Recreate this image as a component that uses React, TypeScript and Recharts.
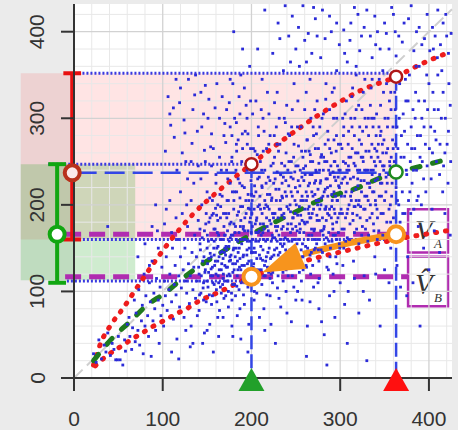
import React from 'react';
import {
  ComposedChart, Line, Scatter, XAxis, YAxis, CartesianGrid,
  ReferenceArea, ReferenceLine, ReferenceDot,
} from 'recharts';

// ---------- axis / grid values ----------
const xTicks = [0, 100, 200, 300, 400];
const yTicks = [0, 100, 200, 300, 400];
const gridMinor = [20, 40, 60, 80, 120, 140, 160, 180, 220, 240, 260, 280, 320, 340, 360, 380, 420];
const gridMajor = [100, 200, 300, 400];

// ---------- quantile curves ----------
const upperRed: [number, number][] = [
  [22, 15], [30, 40], [42, 62], [55, 80], [70, 103], [88, 130], [108, 158], [133, 188],
  [165, 218], [200, 247], [237, 276], [276, 304], [325, 333], [363, 348], [390, 362], [422, 376],
];
const lowerRed: [number, number][] = [
  [24, 14], [35, 24], [55, 38], [67, 46], [77, 52], [88, 59], [99, 65], [108, 70], [117, 75],
  [127, 80], [136, 86], [165, 100], [200, 117], [263, 136], [319, 150], [363, 160], [420, 170],
];
const medianGreen: [number, number][] = [
  [22, 20], [44, 47], [63, 65], [82, 84], [104, 99], [120, 113], [138, 127], [161, 142],
  [200, 166], [254, 194], [276, 205], [299, 213], [318, 219], [340, 229], [364, 238], [389, 244], [418, 252],
];
const arrowPath: [number, number][] = [[363, 166], [311, 156], [258, 143]];
const arrowTip: [number, number] = [212, 122];

// ---------- marked positions ----------
const markX = [200, 363];             // green / red triangles
const barX = [-19, -2];               // green bar, red bar
const barLow = [110, 160];
const barMid = [166, 237];
const barHigh = [247, 352];
const redCircles: [number, number][] = [[200, 247], [363, 348]];
const greenCircle: [number, number] = [363, 238];
const orangeCircles: [number, number][] = [[363, 166], [200, 117]];
const pinkBox = [-60, 363, 160, 352];
const greenBox = [-60, 69, 113, 247];
const magentaY = [166, 117];
const boxVA = [376.5, 421.5, 145, 195];
const boxVB = [376.5, 421.5, 83, 140];

// ---------- scatter cloud ----------
const cloud: [number, number][] = [
  [22,28],[25,18],[28,44],[31,22],[34,38],[36,30],[38,52],[41,26],[43,40],[45,33],[47,21],[49,21],[52,21],[55,15],[50,48],[57,44],[58,31],[60,62],
  [62,70],[63,48],[65,33],[66,58],[68,90],[69,42],[70,75],[72,55],[73,102],[74,38],[76,66],[77,84],[78,28],[79,120],[80,60],[81,95],[83,72],[84,48],[85,110],[86,88],[87,25],[88,135],[89,66],[90,98],[91,80],[92,55],[93,115],[94,170],[95,90],[96,40],[97,105],[98,72],[99,128],[100,84],[38,175],
  [101,60],[102,112],[103,95],[104,140],[105,78],[106,325],[107,102],[108,120],[109,292],[110,88],[111,150],[112,312],[112,68],[113,108],[114,130],[115,96],[116,45],[117,160],[118,118],[119,82],[120,335],[120,140],[121,104],[122,190],[123,125],[124,70],[125,283],[125,150],[126,112],[127,98],[128,175],[129,132],[130,86],[131,118],[132,205],[133,271],[133,145],[134,102],[135,128],[136,327],[136,165],[137,92],[138,140],[139,112],[140,182],[110,30],[118,22],[126,55],[134,40],[139,72],[104,195],[116,240],[128,230],[122,260],[131,36],
  [141,120],[142,155],[143,98],[144,290],[144,200],[145,135],[146,110],[147,263],[147,170],[148,338],[148,125],[149,88],[150,150],[150,215],[151,105],[152,180],[152,138],[153,62],[154,267],[154,118],[155,160],[155,245],[156,95],[156,128],[157,190],[158,142],[158,108],[159,312],[159,172],[160,120],[160,225],[161,88],[161,150],[162,135],[162,200],[163,165],[163,110],[164,255],[164,78],[165,145],[165,185],[166,125],[166,98],[167,210],[167,160],[168,138],[168,115],[169,175],[169,280],[170,294],[170,130],[170,150],[145,40],[150,55],[157,30],[163,48],[168,70],[143,230],[151,300],[156,205],[160,235],[166,240],[149,190],[153,208],[158,158],[162,182],[142,172],[146,90],[165,105],[169,92],
  [171,112],[171,190],[172,148],[172,240],[173,128],[173,170],[174,100],[174,205],[175,158],[175,135],[176,225],[176,118],[177,180],[177,142],[178,90],[178,255],[179,165],[179,122],[180,195],[180,150],[181,108],[181,215],[182,175],[182,132],[183,270],[183,160],[184,118],[184,188],[185,145],[185,230],[186,102],[186,168],[187,208],[187,138],[188,125],[188,182],[189,250],[189,155],[190,112],[190,198],[191,142],[191,175],[192,220],[192,130],[193,160],[193,285],[194,118],[194,190],[195,148],[195,240],[196,170],[196,105],[197,205],[197,135],[198,180],[198,158],[199,265],[199,122],[200,212],[200,145],
  [172,310],[176,345],[181,300],[186,325],[190,380],[194,315],[198,360],[178,60],[184,72],[188,45],[192,85],[196,30],[174,82],[182,95],[191,96],[176,290],[185,275],[195,300],[180,400],[188,350],
  [201,175],[202,128],[202,240],[203,150],[203,195],[204,110],[204,262],[205,168],[205,215],[206,138],[206,185],[207,120],[207,230],[208,158],[208,280],[209,200],[209,142],[210,178],[210,250],[211,125],[211,165],[212,220],[212,190],[213,148],[213,300],[214,172],[214,118],[215,240],[215,205],[216,135],[216,158],[217,265],[217,185],[218,212],[218,128],[219,170],[219,232],[220,150],[220,195],[221,115],[221,280],[222,178],[222,245],[223,140],[223,208],[224,162],[224,122],[225,225],[225,190],[226,255],[226,148],[227,175],[227,132],[228,205],[228,290],[229,158],[229,238],[230,185],[230,118],[231,218],[231,165],[232,145],[232,270],[233,195],[233,128],[234,248],[234,172],[235,208],[235,152],[236,232],[236,138],[237,185],[237,300],[238,162],[238,215],[239,125],[239,260],[240,198],[240,145],[241,178],[241,240],[242,158],[242,222],[243,132],[243,280],[244,192],[244,168],[245,250],[245,142],[246,210],[246,118],[247,185],[247,230],[248,160],[248,270],[249,205],[249,150],[250,245],[250,175],
  [205,320],[212,345],[218,330],[224,375],[230,410],[236,355],[242,395],[248,340],[203,90],[209,70],[215,55],[221,95],[227,40],[233,82],[239,100],[245,65],[250,90],[207,380],[229,330],[246,310],[215,425],[238,430],[211,310],[226,318],[244,365],
  [251,135],[252,215],[252,188],[253,160],[253,268],[254,198],[254,122],[255,240],[255,172],[256,148],[256,290],[257,210],[257,182],[258,255],[258,140],[259,228],[259,168],[260,195],[260,310],[261,152],[261,245],[262,205],[262,128],[263,275],[263,180],[264,222],[264,160],[265,198],[265,262],[266,142],[266,235],[267,185],[267,300],[268,215],[268,165],[269,250],[269,130],[270,195],[270,280],[271,172],[271,225],[272,150],[272,265],[273,205],[273,238],[274,182],[274,320],[275,160],[275,218],[276,248],[276,135],[277,195],[277,290],[278,228],[278,170],[279,258],[279,208],[280,145],[280,185],[281,240],[281,305],[282,175],[282,215],[283,270],[283,155],[284,230],[284,198],[285,250],[285,128],[286,285],[286,210],[287,168],[287,240],[288,195],[288,310],[289,222],[289,150],[290,260],[290,185],[291,205],[291,330],[292,238],[292,165],[293,275],[293,215],[294,190],[294,250],[295,140],[295,228],[296,300],[296,180],[297,245],[297,205],[298,168],[298,270],[299,220],[299,155],[300,240],
  [254,360],[260,390],[266,345],[272,415],[278,370],[284,340],[290,400],[296,355],[257,90],[263,60],[270,105],[276,80],[282,50],[288,95],[294,70],[300,110],[262,25],[285,15],[258,430],[280,425],[268,375],[275,110],[292,120],
  [301,195],[302,265],[302,172],[303,230],[304,150],[304,290],[305,210],[306,248],[306,185],[307,320],[308,225],[308,162],[309,270],[310,200],[310,240],[311,178],[312,300],[312,255],[313,215],[314,190],[314,335],[315,232],[316,168],[316,280],[317,245],[318,205],[318,310],[319,188],[320,260],[320,222],[321,155],[322,290],[322,240],[323,198],[324,270],[324,215],[325,175],[326,250],[326,330],[327,228],[328,195],[328,300],[329,262],[330,210],[330,182],[331,240],[332,280],[332,165],[333,225],[334,315],[334,200],[335,255],[336,190],[336,235],[337,290],[338,215],[338,170],[339,265],[340,245],[340,200],[341,305],[342,185],[342,230],[343,270],[344,210],[344,345],[345,250],[346,190],[346,285],[347,225],[348,165],[348,260],[349,240],[350,205],
  [305,375],[312,410],[318,360],[324,395],[330,425],[336,370],[342,400],[348,355],[303,130],[309,100],[315,135],[321,75],[327,118],[333,90],[339,140],[345,60],[350,125],[308,40],[330,20],[318,350],[340,385],
  [352,260],[353,225],[354,300],[355,195],[356,245],[357,330],[358,210],[359,275],[360,185],[361,250],[362,310],[363,220],[364,290],[365,265],[366,200],[367,340],[368,240],[369,280],[370,215],[371,305],[372,255],[373,190],[374,320],[375,235],[376,270],[377,205],[378,350],[379,250],[380,290],[381,225],[382,310],[383,195],[384,265],[385,330],[386,240],[387,280],[388,210],[389,360],[390,255],[392,300],[394,230],[395,320],[396,270],[398,245],[400,340],[402,290],[404,260],[405,380],[406,310],[408,275],[410,350],[412,235],[414,300],[416,330],[418,260],[420,395],[422,285],[424,315],
  [355,380],[360,420],[366,395],[372,410],[380,430],[386,400],[392,385],[398,420],[404,405],[410,425],[416,410],[422,375],[357,150],[364,130],[370,165],[376,140],[382,110],[388,175],[394,150],[400,125],[406,170],[412,145],[418,190],[424,165],[375,95],[390,60],[368,105],
];

// dense core of the cloud and the sparse upper band
const cloudCore: [number, number][] = [
  [140.5,128],[141.5,96],[142.5,148],[143.5,118],[144.5,162],[145.5,104],[146.5,140],[147.5,122],[148.5,178],[149.5,112],[150.5,132],[151.5,158],[152.5,96],[153.5,144],[154.5,126],[155.5,188],[156.5,110],[157.5,150],[158.5,130],[159.5,196],[160.5,102],[161.5,168],[162.5,118],[163.5,140],[164.5,212],[165.5,160],[166.5,132],[167.5,108],[168.5,190],[169.5,145],
  [170.5,165],[171.5,128],[172.5,205],[173.5,112],[174.5,152],[175.5,178],[176.5,136],[177.5,98],[178.5,215],[179.5,148],[180.5,125],[181.5,168],[182.5,240],[183.5,106],[184.5,158],[185.5,192],[186.5,128],[187.5,175],[188.5,110],[189.5,222],[190.5,140],[191.5,160],[192.5,185],[193.5,120],[194.5,250],[195.5,132],[196.5,196],[197.5,150],[198.5,112],[199.5,228],
  [170.8,142],[172.2,185],[174.8,120],[176.2,162],[178.8,132],[180.2,205],[182.8,150],[184.2,135],[186.8,225],[188.2,160],[190.8,118],[192.2,170],[194.8,142],[196.2,212],[198.8,185],[173.3,230],[177.7,250],[183.3,262],[189.7,282],[195.3,270],
  [200.5,190],[201.5,160],[202.5,132],[203.5,222],[204.5,145],[205.5,182],[206.5,258],[207.5,168],[208.5,125],[209.5,210],[210.5,152],[211.5,240],[212.5,136],[213.5,178],[214.5,196],[215.5,118],[216.5,225],[217.5,160],[218.5,145],[219.5,270],[220.5,182],[221.5,138],[222.5,205],[223.5,165],[224.5,248],[225.5,130],[226.5,190],[227.5,218],[228.5,150],[229.5,175],[230.5,262],[231.5,135],[232.5,205],[233.5,160],[234.5,225],[235.5,122],[236.5,190],[237.5,245],[238.5,148],[239.5,210],[240.5,172],[241.5,282],[242.5,138],[243.5,200],[244.5,232],[245.5,158],[246.5,185],[247.5,255],[248.5,130],[249.5,220],
  [200.8,205],[202.2,265],[204.8,158],[206.2,120],[208.8,232],[210.2,195],[212.8,168],[214.2,285],[216.8,140],[218.2,198],[220.8,228],[222.2,120],[224.8,185],[226.2,162],[228.8,270],[230.2,142],[232.8,235],[234.2,188],[236.8,155],[238.2,295],[240.8,128],[242.2,250],[244.8,178],[246.2,140],[248.8,238],[201.3,305],[207.7,290],[213.3,262],[219.7,305],[225.7,280],[231.3,300],[239.7,315],[245.3,290],[203.3,100],[211.7,108],[217.3,96],[223.7,110],[229.3,104],[235.7,112],[241.3,118],[247.7,105],
  [250.5,200],[251.5,170],[252.5,245],[253.5,140],[254.5,222],[255.5,188],[256.5,262],[257.5,155],[258.5,205],[259.5,180],[260.5,235],[261.5,130],[262.5,275],[263.5,195],[264.5,165],[265.5,225],[266.5,250],[267.5,145],[268.5,190],[269.5,290],[270.5,170],[271.5,212],[272.5,240],[273.5,155],[274.5,200],[275.5,265],[276.5,182],[277.5,225],[278.5,148],[279.5,300],[280.5,210],[281.5,172],[282.5,250],[283.5,195],[284.5,162],[285.5,230],[286.5,275],[287.5,188],[288.5,140],[289.5,245],[290.5,212],[291.5,178],[292.5,300],[293.5,232],[294.5,165],[295.5,262],[296.5,205],[297.5,185],[298.5,240],[299.5,150],
  [251.8,290],[254.2,178],[256.8,232],[258.2,125],[260.8,262],[263.2,210],[265.8,185],[268.2,235],[270.8,148],[273.2,282],[275.8,205],[278.2,255],[280.8,165],[283.2,218],[285.8,190],[288.2,265],[290.8,158],[293.2,195],[295.8,280],[298.2,222],[252.3,320],[261.7,330],[271.3,310],[283.7,322],[293.3,335],[256.3,112],[266.7,120],[276.3,115],[286.7,125],[296.3,132],
  [300.5,270],[301.5,225],[302.5,190],[303.5,250],[304.5,172],[305.5,305],[306.5,215],[307.5,240],[308.5,195],[309.5,285],[310.5,160],[311.5,230],[312.5,205],[313.5,265],[314.5,182],[315.5,248],[316.5,300],[317.5,218],[318.5,172],[319.5,240],[320.5,200],[321.5,275],[322.5,185],[323.5,228],[324.5,310],[325.5,255],[326.5,195],[327.5,240],[328.5,172],[329.5,290],[330.5,225],[331.5,205],[332.5,262],[333.5,185],[334.5,240],[335.5,300],[336.5,215],[337.5,178],[338.5,250],[339.5,228],[340.5,280],[341.5,195],[342.5,255],[343.5,170],[344.5,235],[345.5,315],[346.5,210],[347.5,270],[348.5,190],[349.5,245],[350.5,300],[351.5,215],[352.5,180],[353.5,265],[354.5,235],[355.5,320],[356.5,200],[357.5,255],[358.5,225],[359.5,290],
  [302.8,300],[306.2,158],[309.8,255],[313.2,325],[316.8,198],[320.8,315],[324.2,165],[327.8,345],[331.2,158],[334.8,335],[338.2,300],[341.8,160],[345.2,280],[348.8,330],[352.2,340],[356.8,180],
  [360.5,240],[362.5,270],[364.5,205],[366.5,300],[368.5,255],[370.5,190],[372.5,285],[374.5,240],[376.5,320],[378.5,215],[380.5,265],[382.5,240],[384.5,300],[386.5,205],[388.5,320],[390.5,280],[392.5,250],[394.5,290],[396.5,215],[398.5,310],[400.5,265],[402.5,230],[404.5,330],[406.5,285],[408.5,250],[410.5,310],[412.5,270],[414.5,355],[416.5,245],[418.5,300],[420.5,270],[422.5,340],[424.5,250],[361.5,330],[367.5,180],[373.5,345],[379.5,190],[385.5,360],[391.5,200],[397.5,350],[403.5,195],[409.5,370],[415.5,215],[421.5,225],
  [232,392],[246,418],[253,405],[264,398],[270,428],[283,392],[288,418],[299,385],[304,402],[311,390],[316,428],[322,378],[327,405],[334,395],[339,418],[345,380],[352,398],[358,428],[363,372],[370,388],[377,415],[383,378],[389,405],[395,392],[401,378],[407,395],[413,385],[419,420],[425,398],[250,380],[262,365],[274,395],[296,410],[308,365],[320,420],[336,345],[350,410],[362,400],
];

// further points: upper-left band, core fill and low tail
const cloudExtra: [number, number][] = [
  [103,262],[108,305],[113,278],[119,318],[124,298],[129,345],[134,310],[139,285],[143,330],[146,305],[152,322],[155,282],[161,340],[164,300],[167,325],[171,272],[175,318],[179,340],[183,295],[187,305],[192,335],[196,282],[199,320],[115,345],[137,350],[157,265],[178,280],[190,265],[126,250],[148,250],
  [72,140],[80,155],[88,175],[95,150],[102,178],[108,205],[115,185],[120,215],[127,200],[135,225],[140,245],[92,200],[85,130],[110,168],[132,250],
  [150.3,165],[151.7,122],[153.3,185],[154.7,140],[156.3,118],[157.7,172],[159.3,135],[160.7,188],[162.3,152],[163.7,125],[165.3,198],[166.7,146],[168.3,120],[169.7,165],
  [171.3,152],[172.7,118],[174.3,190],[175.7,140],[177.3,165],[178.7,108],[180.3,178],[181.7,140],[183.3,215],[184.7,125],[186.3,150],[187.7,198],[189.3,130],[190.7,172],[192.3,110],[193.7,205],[195.3,158],[196.7,125],[198.3,195],[199.7,168],
  [201.3,145],[202.7,210],[204.3,178],[205.7,125],[207.3,198],[208.7,170],[210.3,138],[211.7,222],[213.3,160],[214.7,130],[216.3,200],[217.7,175],[219.3,122],[220.7,212],[222.3,158],[223.7,190],[225.3,142],[226.7,230],[228.3,170],[229.7,128],[231.3,195],[232.7,155],[234.3,210],[235.7,175],[237.3,135],[238.7,228],[240.3,160],[241.7,195],[243.3,148],[244.7,215],[246.3,172],[247.7,135],[249.3,190],
  [251.3,155],[252.7,228],[254.3,168],[255.7,205],[257.3,140],[258.7,242],[260.3,178],[261.7,215],[263.3,150],[264.7,190],[266.3,258],[267.7,172],[269.3,210],[270.7,160],[272.3,228],[273.7,188],[275.3,148],[276.7,240],[278.3,200],[279.7,170],[281.3,255],[282.7,195],[284.3,182],[285.7,220],[287.3,158],[288.7,235],[290.3,198],[291.7,172],[293.3,250],[294.7,210],[296.3,160],[297.7,232],[299.3,190],
  [301.3,210],[303.7,280],[305.3,232],[307.7,190],[309.3,245],[311.7,210],[313.3,290],[315.7,198],[317.3,260],[319.7,230],[321.3,205],[323.7,255],[325.3,285],[327.7,210],[329.3,240],[331.7,300],[333.3,220],[335.7,270],[337.3,240],[339.7,205],[341.3,262],[343.7,290],[345.3,225],[347.7,245],[349.3,275],[351.7,232],[353.3,290],[355.7,250],[357.3,310],[359.7,265],
  [132,60],[141,78],[147,52],[155,85],[162,70],[171,95],[179,48],[187,80],[197,62],[206,98],[214,80],[222,62],[231,92],[240,75],[252,100],[266,88],[279,65],[293,100],[305,85],[316,115],[326,100],[340,120],[355,110],
];

const toXY = (arr: [number, number][]) => arr.map(([x, y]) => ({ x, y }));

const TICK_FONT = { fontFamily: 'Liberation Sans, Arial, sans-serif', fontSize: 21, fill: '#333' };
const BLUE_DOT = '#3a3ae0';
const BLUE_DASH = '#3346e6';
const MAGENTA = '#b02cb0';

const XTick = (p: any) => (
  <text x={p.x} y={418} textAnchor="middle" dominantBaseline="central" {...TICK_FONT}>{p.payload.value}</text>
);
const YTick = (p: any) => (
  <text x={37} y={p.y} transform={`rotate(-90, 37, ${p.y})`} textAnchor="middle" dominantBaseline="central" {...TICK_FONT}>{p.payload.value}</text>
);

const triangle = (color: string) => (p: any) => (
  <polygon points={`${p.cx - 13},${p.cy + 13} ${p.cx + 13},${p.cy + 13} ${p.cx},${p.cy - 10}`} fill={color} />
);

const arrowHead = (p: any) => {
  const ang = (157 * Math.PI) / 180;
  const dx = Math.cos(ang), dy = Math.sin(ang);
  const L = 42, W = 14;
  const bx = p.cx - L * dx, by = p.cy - L * dy;
  const px = -dy, py = dx;
  return <polygon points={`${p.cx},${p.cy} ${bx + W * px},${by + W * py} ${bx - W * px},${by - W * py}`} fill="#f7941d" />;
};

const dotShape = (p: any) => <rect x={p.cx - 1.4} y={p.cy - 1.4} width={2.8} height={2.8} fill="#2b2bd8" />;

const boxLabel = (main: string, sub: string) => (props: any) => {
  const vb = props.viewBox || {};
  const x = vb.x, y = vb.y, h = vb.height;
  const serif = { fontFamily: 'Liberation Serif, Times New Roman, serif', fontStyle: 'italic', fill: '#333' } as const;
  return (
    <g>
      <text x={x + 7} y={y + h - 12} fontSize={29} {...serif}>
        {main}
        <tspan x={x + 26} y={y + h - 4} fontSize={13}>{sub}</tspan>
      </text>
    </g>
  );
};

export default function App() {
  return (
    <div style={{ position: 'absolute', left: 0, top: 0, width: 458, height: 430, background: '#ebebeb' }}>
      <ComposedChart width={458} height={430} margin={{ top: 4, right: 6, bottom: 0, left: 0 }}>
        <CartesianGrid fill="#ffffff" horizontal={false} vertical={false} />
        <XAxis
          dataKey="x" type="number" domain={[0, 426]} ticks={xTicks} height={52}
          axisLine={{ stroke: '#333', strokeWidth: 2 }} tickLine={{ stroke: '#333', strokeWidth: 2 }}
          tickSize={13} tick={XTick} interval={0}
        />
        <YAxis
          dataKey="y" type="number" domain={[0, 432]} ticks={yTicks} width={74}
          axisLine={{ stroke: '#333', strokeWidth: 2 }} tickLine={{ stroke: '#333', strokeWidth: 2 }}
          tickSize={13} tick={YTick} interval={0}
        />
        {gridMinor.map((v) => <ReferenceLine key={'gx' + v} x={v} stroke="#e8e8e8" strokeWidth={1} />)}
        {gridMinor.map((v) => <ReferenceLine key={'gy' + v} y={v} stroke="#e8e8e8" strokeWidth={1} />)}
        {gridMajor.map((v) => <ReferenceLine key={'mx' + v} x={v} stroke="#d2d2d2" strokeWidth={1.3} />)}
        {gridMajor.map((v) => <ReferenceLine key={'my' + v} y={v} stroke="#d2d2d2" strokeWidth={1.3} />)}
        <ReferenceLine segment={[{ x: 0, y: 0 }, { x: 426, y: 426 }]} stroke="#cfcfcf" strokeWidth={2} strokeDasharray="12 6" ifOverflow="visible" />

        <ReferenceArea x1={pinkBox[0]} x2={pinkBox[1]} y1={pinkBox[2]} y2={pinkBox[3]} fill="#ff2020" fillOpacity={0.12} stroke="none" ifOverflow="visible" />
        <ReferenceArea x1={greenBox[0]} x2={greenBox[1]} y1={greenBox[2]} y2={greenBox[3]} fill="#10a010" fillOpacity={0.2} stroke="none" ifOverflow="visible" />

        <Scatter data={toXY(cloud)} isAnimationActive={false} shape={dotShape} />
        <Scatter data={toXY(cloudCore)} isAnimationActive={false} shape={dotShape} />
        <Scatter data={toXY(cloudExtra)} isAnimationActive={false} shape={dotShape} />

        {/* blue dotted level lines */}
        <ReferenceLine segment={[{ x: 5, y: barHigh[1] }, { x: markX[1], y: barHigh[1] }]} stroke={BLUE_DOT} strokeWidth={3} strokeDasharray="2 2" ifOverflow="visible" />
        <ReferenceLine segment={[{ x: -29, y: barHigh[0] }, { x: markX[0], y: barHigh[0] }]} stroke={BLUE_DOT} strokeWidth={3} strokeDasharray="2 2" ifOverflow="visible" />
        <ReferenceLine segment={[{ x: -8, y: barLow[1] }, { x: markX[1], y: barLow[1] }]} stroke={BLUE_DOT} strokeWidth={3} strokeDasharray="2 2" ifOverflow="visible" />
        <ReferenceLine segment={[{ x: -8, y: barLow[0] + 2 }, { x: markX[0], y: barLow[0] + 2 }]} stroke={BLUE_DOT} strokeWidth={3} strokeDasharray="2 2" ifOverflow="visible" />

        {/* blue dashed lines */}
        <ReferenceLine segment={[{ x: 3, y: barMid[1] }, { x: markX[1], y: barMid[1] }]} stroke={BLUE_DASH} strokeWidth={2.5} strokeDasharray="20 8" ifOverflow="visible" />
        <ReferenceLine segment={[{ x: markX[0], y: redCircles[0][1] }, { x: markX[0], y: 0 }]} stroke={BLUE_DASH} strokeWidth={2.5} strokeDasharray="14 5" ifOverflow="visible" />
        <ReferenceLine segment={[{ x: markX[1], y: redCircles[1][1] }, { x: markX[1], y: 0 }]} stroke={BLUE_DASH} strokeWidth={2.5} strokeDasharray="14 5" ifOverflow="visible" />

        {/* magenta dashed lines */}
        {magentaY.map((v) => (
          <ReferenceLine key={'mg' + v} segment={[{ x: -10, y: v }, { x: boxVA[0], y: v }]} stroke={MAGENTA} strokeWidth={5} strokeDasharray="16 8" ifOverflow="visible" />
        ))}

        {/* curves */}
        <Line data={toXY(upperRed)} dataKey="y" type="monotone" dot={false} stroke="#ee1c1c" strokeWidth={5} strokeDasharray="1 9" strokeLinecap="round" isAnimationActive={false} />
        <Line data={toXY(lowerRed)} dataKey="y" type="monotone" dot={false} stroke="#ee1c1c" strokeWidth={5} strokeDasharray="1 9" strokeLinecap="round" isAnimationActive={false} />
        <Line data={toXY(medianGreen)} dataKey="y" type="monotone" dot={false} stroke="#1e7a1e" strokeWidth={5} strokeDasharray="8 13" strokeLinecap="round" isAnimationActive={false} />

        {/* interval bars */}
        {barX.map((bx, i) => {
          const c = i === 0 ? '#11a611' : '#e81010';
          return (
            <React.Fragment key={'bar' + i}>
              <ReferenceLine segment={[{ x: bx, y: barLow[i] }, { x: bx, y: barHigh[i] }]} stroke={c} strokeWidth={4} ifOverflow="visible" />
              <ReferenceLine segment={[{ x: bx - 10, y: barLow[i] }, { x: bx + 10, y: barLow[i] }]} stroke={c} strokeWidth={4} ifOverflow="visible" />
              <ReferenceLine segment={[{ x: bx - 10, y: barHigh[i] }, { x: bx + 10, y: barHigh[i] }]} stroke={c} strokeWidth={4} ifOverflow="visible" />
            </React.Fragment>
          );
        })}
        <ReferenceDot x={barX[0]} y={barMid[0]} r={7.5} fill="#ffffff" stroke="#11a611" strokeWidth={4} ifOverflow="visible" />
        <ReferenceDot x={barX[1]} y={barMid[1]} r={7.5} fill="#fbeaea" stroke="#b8321c" strokeWidth={4} ifOverflow="visible" />

        {redCircles.map(([x, y]) => (
          <ReferenceDot key={'rc' + x} x={x} y={y} r={6} fill="#ffffff" stroke="#b01818" strokeWidth={2.5} ifOverflow="visible" />
        ))}
        <ReferenceDot x={greenCircle[0]} y={greenCircle[1]} r={6.5} fill="#ffffff" stroke="#1e8a1e" strokeWidth={2.5} ifOverflow="visible" />

        {/* orange arrow */}
        <Line data={toXY(arrowPath)} dataKey="y" type="monotone" dot={false} stroke="#f7941d" strokeWidth={6.5} isAnimationActive={false} />
        <ReferenceDot x={arrowTip[0]} y={arrowTip[1]} r={1} shape={arrowHead} ifOverflow="visible" />
        {orangeCircles.map(([x, y]) => (
          <ReferenceDot key={'oc' + x} x={x} y={y} r={8} fill="#ffffff" stroke="#f7941d" strokeWidth={4} ifOverflow="visible" />
        ))}

        {/* label boxes */}
        <ReferenceArea x1={boxVA[0]} x2={boxVA[1]} y1={boxVA[2]} y2={boxVA[3]} fill="#ffffff" fillOpacity={1} stroke={MAGENTA} strokeWidth={2.5} ifOverflow="visible" label={boxLabel('V', 'A')} />
        <ReferenceArea x1={boxVB[0]} x2={boxVB[1]} y1={boxVB[2]} y2={boxVB[3]} fill="#ffffff" fillOpacity={1} stroke={MAGENTA} strokeWidth={2.5} ifOverflow="visible" label={boxLabel('V\u0302', 'B')} />

        {/* triangles on the x axis */}
        <ReferenceDot x={markX[0]} y={0} r={1} shape={triangle('#22a02a')} ifOverflow="visible" />
        <ReferenceDot x={markX[1]} y={0} r={1} shape={triangle('#ff1010')} ifOverflow="visible" />
      </ComposedChart>
    </div>
  );
}
